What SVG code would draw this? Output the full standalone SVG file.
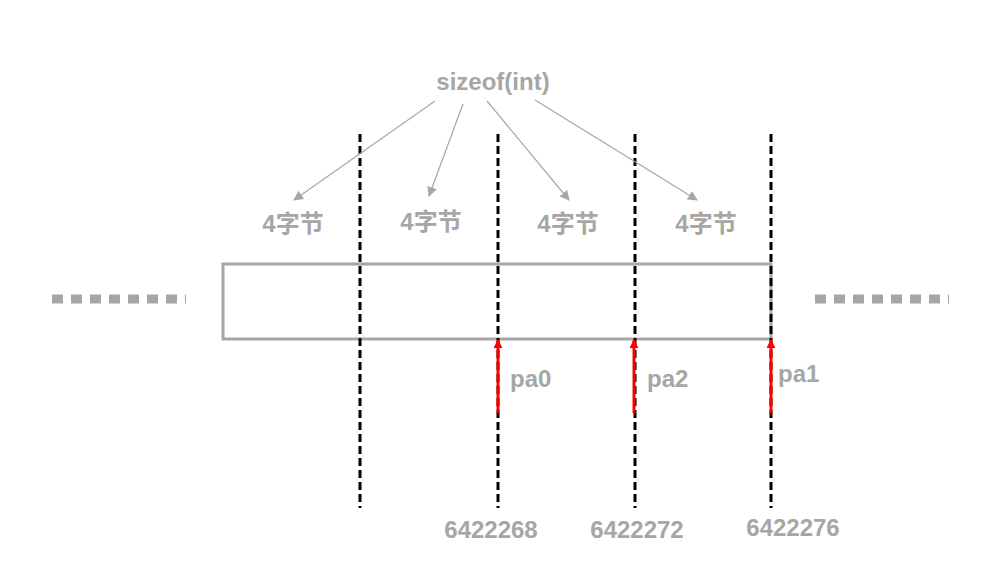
<svg xmlns="http://www.w3.org/2000/svg" width="992" height="586" viewBox="0 0 992 586">
<style>
.t{font-family:"Liberation Sans","Noto Sans CJK SC",sans-serif;font-weight:bold;fill:#a6a6a6;font-size:24px}
.d{stroke:#000;stroke-width:3;stroke-dasharray:8,4}
.g{stroke:#a6a6a6;stroke-width:1.2;fill:none}
.r{stroke:#f00;stroke-width:3}
.dot{stroke:#a6a6a6;stroke-width:9;stroke-dasharray:11,8}
</style>
<defs>
<marker id="ga" viewBox="0 0 10 10" refX="9" refY="5" markerWidth="10" markerHeight="10" orient="auto" markerUnits="userSpaceOnUse"><path d="M0,0L10,5L0,10z" fill="#a6a6a6"/></marker>
<marker id="ra" viewBox="0 0 10 10" refX="9" refY="5" markerWidth="9" markerHeight="9" orient="auto" markerUnits="userSpaceOnUse"><path d="M0,0L10,5L0,10z" fill="#f00"/></marker>
</defs>
<g id="mem"><rect x="223" y="264" width="548" height="75" fill="none" stroke="#a6a6a6" stroke-width="3"/></g>
<g id="dots"><line class="dot" x1="52" y1="299" x2="186" y2="299"/><line class="dot" x1="815" y1="299" x2="949" y2="299"/></g>
<g id="labels">
<text class="t" x="493" y="90" text-anchor="middle">sizeof(int)</text>
<text class="t" x="293" y="232" text-anchor="middle">4字节</text>
<text class="t" x="431" y="230" text-anchor="middle">4字节</text>
<text class="t" x="568" y="232" text-anchor="middle">4字节</text>
<text class="t" x="706" y="232" text-anchor="middle">4字节</text>
<text class="t" x="510" y="387">pa0</text>
<text class="t" x="647" y="387">pa2</text>
<text class="t" x="778" y="382">pa1</text>
<text class="t" x="491" y="538" text-anchor="middle">6422268</text>
<text class="t" x="637" y="538" text-anchor="middle">6422272</text>
<text class="t" x="793" y="536" text-anchor="middle">6422276</text>
</g>
<g id="connectors">
<line class="d" x1="360" y1="134" x2="360" y2="508"/>
<line class="d" x1="498" y1="134" x2="498" y2="508"/>
<line class="d" x1="635" y1="134" x2="635" y2="508"/>
<line class="d" x1="771" y1="134" x2="771" y2="508"/>
<line class="g" x1="435" y1="101" x2="294" y2="200" marker-end="url(#ga)"/>
<line class="g" x1="463" y1="104" x2="429" y2="196" marker-end="url(#ga)"/>
<line class="g" x1="487" y1="101" x2="569" y2="200" marker-end="url(#ga)"/>
<line class="g" x1="535" y1="100" x2="697" y2="200" marker-end="url(#ga)"/>
<line class="r" x1="498" y1="413" x2="498" y2="340" marker-end="url(#ra)"/>
<line class="r" x1="634" y1="413" x2="634" y2="340" marker-end="url(#ra)"/>
<line class="r" x1="771" y1="413" x2="771" y2="340" marker-end="url(#ra)"/>
</g>
</svg>
